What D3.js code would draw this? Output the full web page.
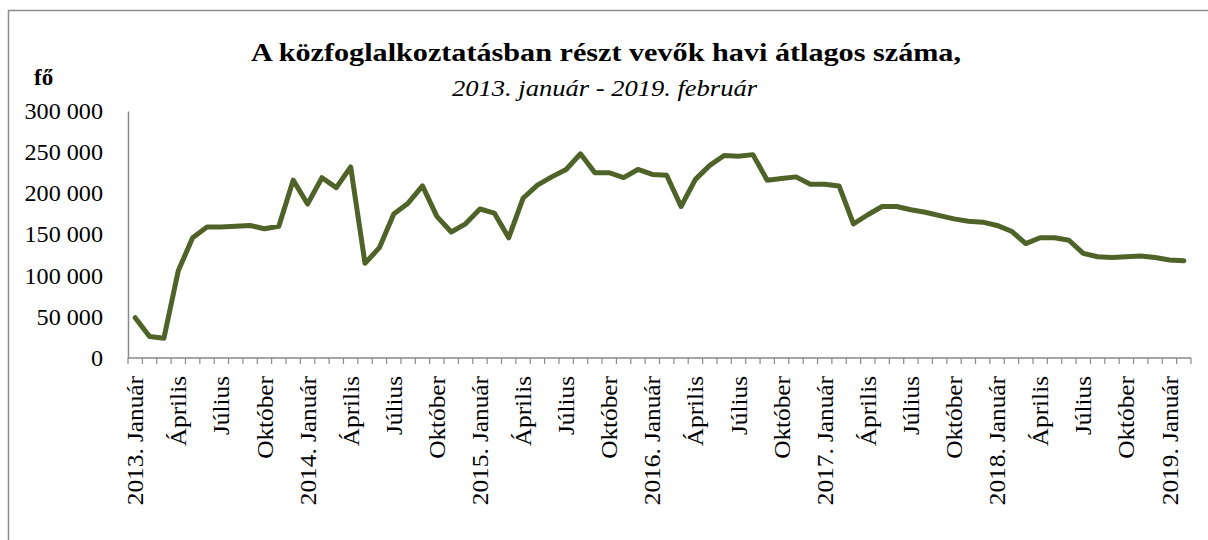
<!DOCTYPE html>
<html>
<head>
<meta charset="utf-8">
<script src="https://cdn.jsdelivr.net/npm/d3@7"></script>
<style>
  body { margin: 0; background: #fff; }
  text { font-family: "Liberation Serif", "DejaVu Serif", serif; fill: #000; }
</style>
</head>
<body>
<div id="plot"></div>
<script>
// havi átlagos létszám, 2013. január - 2019. február
const years = [2013, 2014, 2015, 2016, 2017, 2018, 2019];
const monthNames = ["Január","Február","Március","Április","Május","Június",
                    "Július","Augusztus","Szeptember","Október","November","December"];
const values = [
  49000, 26000, 24000, 106000, 146000, 159000, 159000, 160000, 161000, 157000, 160000, 216000, // 2013
  187000, 219000, 207000, 232000, 115000, 134000, 175000, 188000, 209000, 172000, 153000, 163000, // 2014
  181000, 176000, 146000, 194000, 210000, 220000, 229000, 248000, 225000, 225000, 219000, 229000, // 2015
  223000, 222000, 184000, 217000, 234000, 246000, 245000, 247000, 216000, 218000, 220000, 211000, // 2016
  211000, 209000, 163000, 174000, 184000, 184000, 180000, 177000, 173000, 169000, 166000, 165000, // 2017
  161000, 154000, 139000, 146000, 146000, 143000, 127000, 123000, 122000, 123000, 124000, 122000, // 2018
  119000, 118000 // 2019
];
const yTicks = [0, 50000, 100000, 150000, 200000, 250000, 300000];

window.addEventListener("load", main);

function main(){
  const width = 1208, height = 540;

  // kategóriák: minden hónap egy pont
  let cats = values.map((v, i) => {
    let y = years[Math.floor(i / 12)], m = i % 12;
    let label = "";
    if (m % 3 == 0) label = (m == 0 ? y + ". " : "") + monthNames[m];
    return {i: i, value: v, label: label};
  });

  let svg = d3.select('#plot')
    .append('svg')
    .attr('width', width)
    .attr('height', height);

  // keret
  svg.append('rect')
    .attr('x', 8.5).attr('y', 10.5)
    .attr('width', 1220).attr('height', 560)
    .attr('fill', 'none')
    .attr('stroke', '#8c8c8c')
    .attr('stroke-width', 1.5);

  let x = d3.scaleBand()
    .domain(cats.map(d => d.i))
    .range([128, 1191]);

  let y = d3.scaleLinear()
    .domain([0, 300000])
    .range([358, 111]);

  let fmt = d3.formatLocale({decimal: ",", thousands: " ", grouping: [3], currency: ["", ""]}).format(",d");

  // y tengely
  let yAxis = svg.append('g')
    .attr('transform', 'translate(128,0)')
    .call(d3.axisLeft(y).tickValues(yTicks).tickSize(0).tickPadding(0).tickFormat(fmt));
  yAxis.select('.domain').attr('stroke', '#898989').attr('stroke-width', 1.5);
  yAxis.selectAll('text')
    .attr('x', 0)
    .attr('transform', 'translate(-25,0) scale(1.05,1)')
    .style('font-family', '"Liberation Serif", serif')
    .style('font-size', '23px')
    .attr('fill', '#000');

  // x tengely: vonal + osztások a kategóriák határán
  let xg = svg.append('g');
  xg.append('line')
    .attr('x1', 128).attr('x2', 1191)
    .attr('y1', 358).attr('y2', 358)
    .attr('stroke', '#898989').attr('stroke-width', 1.5);
  xg.selectAll('line.tick')
    .data(d3.range(cats.length + 1))
    .join('line')
    .attr('class', 'tick')
    .attr('x1', d => 128 + d * x.step())
    .attr('x2', d => 128 + d * x.step())
    .attr('y1', 358).attr('y2', 364)
    .attr('stroke', '#898989').attr('stroke-width', 1.2);

  xg.selectAll('text')
    .data(cats.filter(d => d.label != ""))
    .join('text')
    .attr('transform', d => `translate(${x(d.i) + x.bandwidth() / 2},376) rotate(-90) scale(1.1,1)`)
    .attr('dy', '0.35em')
    .attr('text-anchor', 'end')
    .style('font-size', '23px')
    .text(d => d.label);

  // vonal
  let line = d3.line()
    .x(d => x(d.i) + x.bandwidth() / 2)
    .y(d => y(d.value));

  svg.append('path')
    .datum(cats)
    .attr('d', line)
    .attr('fill', 'none')
    .attr('stroke', '#4f6228')
    .attr('stroke-width', 5)
    .attr('stroke-linejoin', 'round')
    .attr('stroke-linecap', 'round');

  // címek
  svg.append('text')
    .attr('x', 251).attr('y', 61)
    .attr('textLength', 710)
    .attr('lengthAdjust', 'spacingAndGlyphs')
    .style('font-size', '26px')
    .style('font-weight', 'bold')
    .text('A közfoglalkoztatásban részt vevők havi átlagos száma,');

  svg.append('text')
    .attr('x', 452).attr('y', 96)
    .attr('textLength', 305)
    .attr('lengthAdjust', 'spacingAndGlyphs')
    .style('font-size', '24px')
    .style('font-style', 'italic')
    .text('2013. január - 2019. február');

  svg.append('text')
    .attr('x', 34).attr('y', 85)
    .style('font-size', '23px')
    .style('font-weight', 'bold')
    .text('fő');
}
</script>
</body>
</html>
